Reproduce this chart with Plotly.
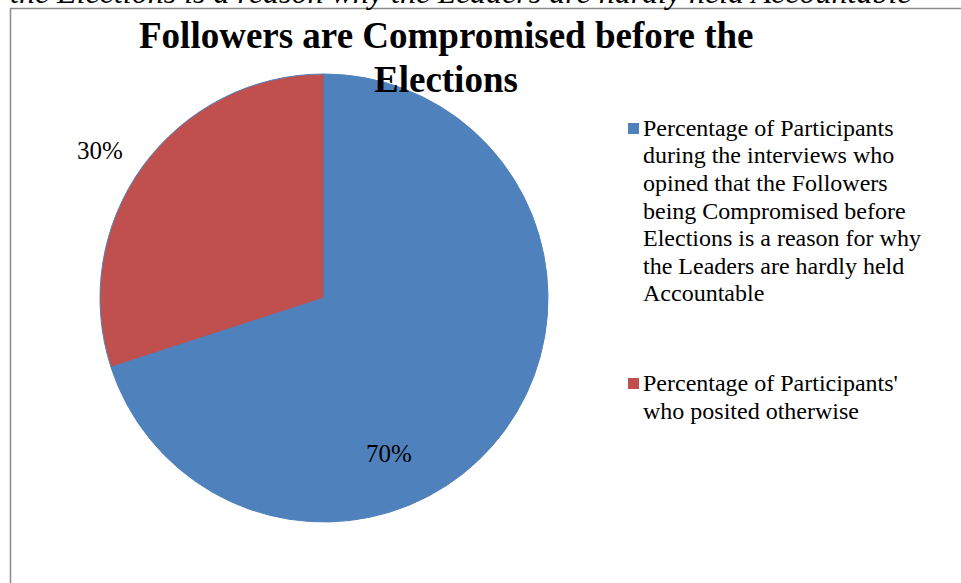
import plotly.graph_objects as go

W, H = 961, 583

# Survey shares (percent)
values = [70, 30]
colors = ["#4F81BD", "#C0504D"]
label_lines = [
    ["Percentage of Participants",
     "during the interviews who",
     "opined that the Followers",
     "being Compromised before",
     "Elections is a reason for why",
     "the Leaders are hardly held",
     "Accountable"],
    ["Percentage of Participants'",
     "who posited otherwise"],
]
labels = [" ".join(lines) for lines in label_lines]

title_lines = ["Followers are Compromised before the", "Elections"]
caption = "the Elections is a reason why the Leaders are hardly held Accountable"

SERIF = "Liberation Serif, Times New Roman, serif"


def px(x):
    return x / W


def py(y):
    return 1 - y / H


fig = go.Figure()

# pie: centre (324, 298), radius 224 px
cx, cy, r = 324, 298, 224
fig.add_trace(go.Pie(
    labels=labels,
    values=values,
    sort=False,
    direction="clockwise",
    rotation=0,
    marker=dict(colors=colors, line=dict(color="#4F81BD", width=1)),
    textinfo="none",
    hoverinfo="label+percent",
    domain=dict(x=[px(cx - r), px(cx + r)], y=[py(cy + r), py(cy - r)]),
    showlegend=False,
))

annotations = []

# partially visible caption line above the chart frame
annotations.append(dict(
    text=f"<i>{caption}</i>", x=px(8), y=py(12), xref="paper", yref="paper",
    xanchor="left", yanchor="bottom", showarrow=False,
    font=dict(family=SERIF, size=32, color="#000"),
))

# title, one annotation per line
for i, line in enumerate(title_lines):
    annotations.append(dict(
        text=f"<b>{line}</b>", x=px(446), y=py(48 + 43 * i - 12),
        xref="paper", yref="paper", xanchor="center", yanchor="middle",
        showarrow=False, font=dict(family=SERIF, size=37, color="#000"),
    ))

# data labels
label_pos = [(389, 453), (100, 150)]
for v, (lx, ly) in zip(values, label_pos):
    annotations.append(dict(
        text=f"{v}%", x=px(lx), y=py(ly), xref="paper", yref="paper",
        xanchor="center", yanchor="middle", showarrow=False,
        font=dict(family=SERIF, size=25, color="#000"),
    ))

# legend: colour squares plus wrapped text lines
shapes = []
first_baselines = [135, 390]
spacing = 27.5
for lines, col, b0 in zip(label_lines, colors, first_baselines):
    shapes.append(dict(
        type="rect", xref="paper", yref="paper",
        x0=px(628), x1=px(639), y0=py(b0 - 1), y1=py(b0 - 12),
        fillcolor=col, line=dict(width=0),
    ))
    for j, line in enumerate(lines):
        annotations.append(dict(
            text=line, x=px(641), y=py(b0 + spacing * j - 7),
            xref="paper", yref="paper", xanchor="left", yanchor="middle",
            showarrow=False, font=dict(family=SERIF, size=24, color="#000"),
        ))

# chart frame (runs off the right and bottom edges)
shapes.append(dict(
    type="rect", xref="paper", yref="paper",
    x0=px(10.5), x1=px(W + 20), y0=py(H + 20), y1=py(8.5),
    line=dict(color="#8C8C8C", width=1.5), fillcolor="rgba(0,0,0,0)",
    layer="below",
))

fig.update_layout(
    width=W, height=H,
    margin=dict(l=0, r=0, t=0, b=0),
    paper_bgcolor="white", plot_bgcolor="white",
    annotations=annotations, shapes=shapes,
)

fig.write_html("out.html", include_plotlyjs=True, full_html=True,
               config={"displayModeBar": False})
